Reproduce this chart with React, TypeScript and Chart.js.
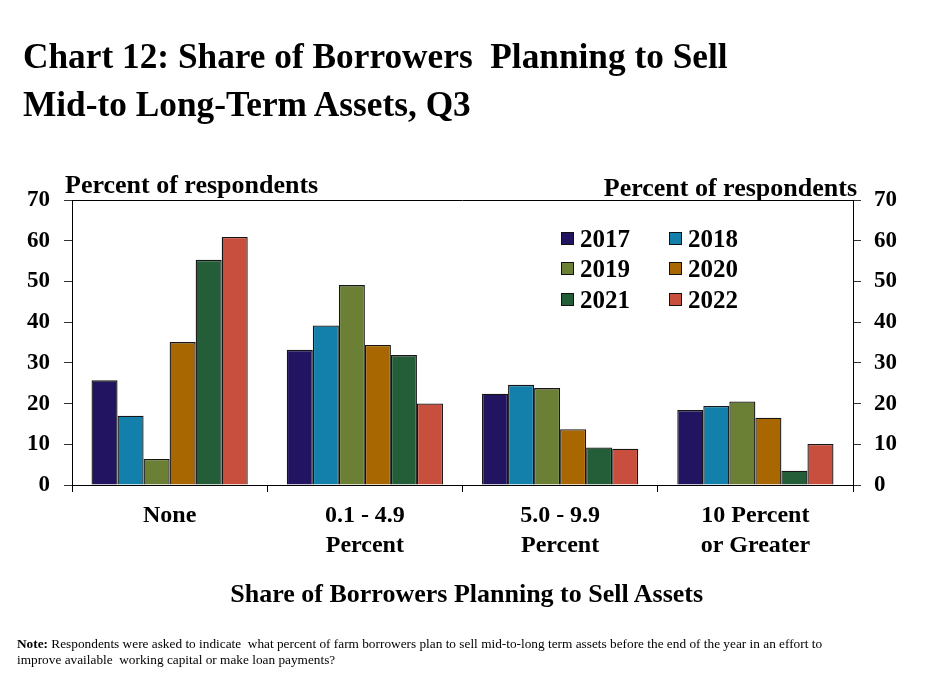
import React, { useEffect, useRef } from "react";
import { Chart, registerables } from "chart.js";

Chart.register(...registerables);

const categories: string[][] = [["None"], ["0.1 - 4.9", "Percent"], ["5.0 - 9.9", "Percent"], ["10 Percent", "or Greater"]];
const years = ["2017", "2018", "2019", "2020", "2021", "2022"];
const s2017 = [25.7, 33.2, 22.4, 18.4];
const s2018 = [17.0, 39.2, 24.6, 19.4];
const s2019 = [6.4, 49.1, 23.8, 20.5];
const s2020 = [35.1, 34.4, 13.7, 16.5];
const s2021 = [55.3, 31.9, 9.2, 3.5];
const s2022 = [60.9, 20.0, 8.9, 10.1];
const seriesValues = [s2017, s2018, s2019, s2020, s2021, s2022];
const colors = ["#221461", "#1380AB", "#6B7F35", "#A86700", "#235E38", "#C84F3D"];
const yTicks = [0, 10, 20, 30, 40, 50, 60, 70];

const SERIF = '"Liberation Serif", "Times New Roman", serif';

const frame = {
  id: "frame",
  afterDraw(chart: any) {
    const { ctx, chartArea } = chart;
    ctx.save();
    ctx.strokeStyle = "#000";
    ctx.lineWidth = 1;
    ctx.beginPath();
    ctx.moveTo(chartArea.left, chartArea.top + 0.5);
    ctx.lineTo(chartArea.right, chartArea.top + 0.5);
    ctx.stroke();
    ctx.restore();
  },
};

export default function App() {
  const ref = useRef<HTMLCanvasElement>(null);
  useEffect(() => {
    if (!ref.current) return;
    const tickFont = { family: SERIF, size: 23, weight: "bold" as const };
    const chart = new Chart(ref.current, {
      type: "bar",
      data: {
        labels: categories,
        datasets: years.map((y, i) => ({
          label: y,
          data: seriesValues[i],
          backgroundColor: colors[i],
          borderColor: "#151515",
          borderWidth: 1.3,
          categoryPercentage: 0.8,
          barPercentage: 1.0,
          yAxisID: "y",
        })),
      },
      options: {
        responsive: false,
        animation: false,
        devicePixelRatio: 1,
        layout: { padding: { top: 200, left: 0, right: 0, bottom: 0 } },
        plugins: { legend: { display: false }, tooltip: { enabled: false } },
        scales: {
          x: {
            afterFit: (s: any) => { s.height = 208; },
            grid: { display: true, drawOnChartArea: false, drawTicks: true, tickLength: 7, tickColor: "#000", offset: true },
            border: { display: true, color: "#000", width: 1 },
            ticks: { font: { family: SERIF, size: 24, weight: "bold", lineHeight: 1.25 }, color: "#000", padding: 9, maxRotation: 0 },
          },
          y: {
            position: "left",
            min: 0,
            max: 70,
            afterFit: (s: any) => { s.width = 72; },
            afterBuildTicks: (s: any) => { s.ticks = yTicks.map((v) => ({ value: v })); },
            grid: { display: true, drawOnChartArea: false, drawTicks: true, tickLength: 8, tickColor: "#333" },
            border: { display: true, color: "#000", width: 1 },
            ticks: { font: tickFont, color: "#000", padding: 14 },
          },
          y1: {
            position: "right",
            min: 0,
            max: 70,
            afterFit: (s: any) => { s.width = 72; },
            afterBuildTicks: (s: any) => { s.ticks = yTicks.map((v) => ({ value: v })); },
            grid: { display: true, drawOnChartArea: false, drawTicks: true, tickLength: 8, tickColor: "#333" },
            border: { display: true, color: "#000", width: 1 },
            ticks: { font: tickFont, color: "#000", padding: 13 },
          },
        },
      },
      plugins: [frame],
    });
    return () => chart.destroy();
  }, []);

  const txt: React.CSSProperties = { position: "absolute", fontFamily: SERIF, fontWeight: "bold", color: "#000", whiteSpace: "nowrap", lineHeight: 1 };

  return (
    <div style={{ position: "absolute", left: 0, top: 0, width: 925, height: 693, background: "#fff", overflow: "hidden" }}>
      <canvas ref={ref} width={925} height={693} style={{ position: "absolute", left: 0, top: 0, width: 925, height: 693 }} />
      <div style={{ ...txt, left: 23, top: 33, fontSize: 35.3, lineHeight: "47.5px" }}>
        Chart 12: Share of Borrowers&nbsp; Planning to Sell
        <br />
        Mid-to Long-Term Assets, Q3
      </div>
      <div style={{ ...txt, left: 65, top: 172, fontSize: 26 }}>Percent of respondents</div>
      <div style={{ ...txt, right: 925 - 857, top: 175, fontSize: 26 }}>Percent of respondents</div>
      {years.map((y, i) => {
        const col = i % 2;
        const row = Math.floor(i / 2);
        const cy = 238 + row * 30.7;
        return (
          <div key={y} style={{ position: "absolute", left: col === 0 ? 561 : 669, top: cy - 13, height: 26, display: "flex", alignItems: "center" }}>
            <div style={{ width: 11, height: 11, background: colors[i], border: "1px solid #111" }} />
            <div style={{ fontFamily: SERIF, fontWeight: "bold", fontSize: 25, marginLeft: 6, lineHeight: 1 }}>{y}</div>
          </div>
        );
      })}
      <div style={{ ...txt, left: 466.7, top: 581, fontSize: 26, transform: "translateX(-50%)" }}>
        Share of Borrowers Planning to Sell Assets
      </div>
      <div style={{ position: "absolute", left: 17, top: 636, fontFamily: SERIF, fontSize: 13.3, lineHeight: "16px", color: "#000", width: 905, whiteSpace: "nowrap" }}>
        <b>Note:</b> Respondents were asked to indicate&nbsp; what percent of farm borrowers plan to sell mid-to-long term assets before the end of the year in an effort to
        <br />
        improve available&nbsp; working capital or make loan payments?
      </div>
    </div>
  );
}
